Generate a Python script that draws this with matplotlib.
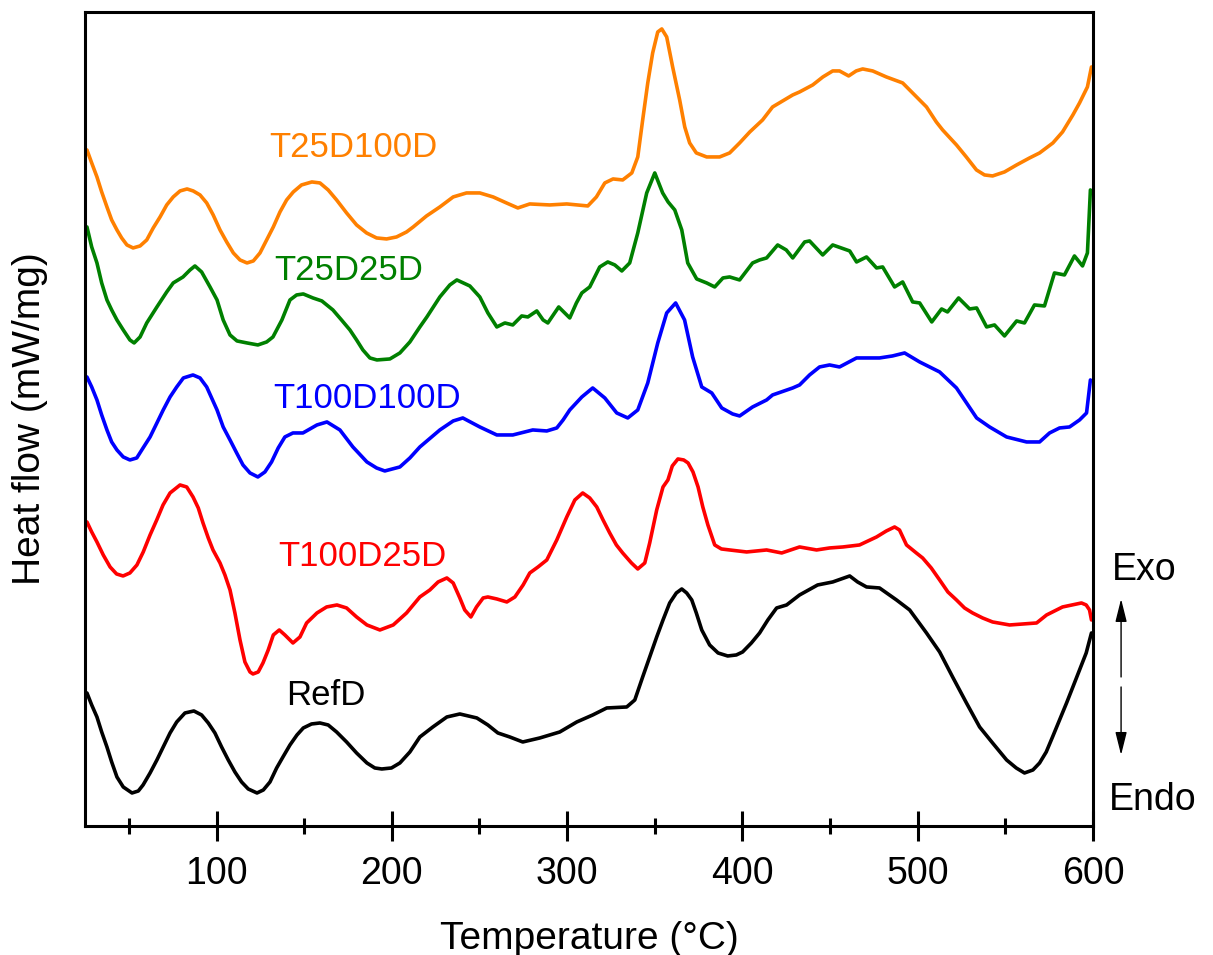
import matplotlib.pyplot as plt
from matplotlib.ticker import MultipleLocator

plt.rcParams['font.family'] = ['Liberation Sans', 'DejaVu Sans']

# DSC traces, stacked with arbitrary offsets (heat flow, mW/mg)
t_t25d100d = [26.1, 28.8, 31.8, 34.5, 37.5, 40.2, 43.2, 45.9, 48.9, 52.4, 56.4, 60.2, 63.9, 67.8,
              71.6, 75.3, 79.2, 83.2, 86.7, 90.6, 94.4, 98.1, 102.0, 105.8, 109.6, 113.4, 117.4,
              121.0, 124.8, 128.6, 132.4, 136.2, 140.0, 143.8, 148.5, 154.4, 159.0, 163.7, 168.5,
              174.2, 179.9, 185.6, 191.3, 197.0, 202.7, 208.4, 212.2, 219.8, 227.4, 235.0, 242.6,
              250.2, 257.8, 265.4, 271.9, 278.7, 290.1, 299.8, 311.8, 316.7, 321.5, 326.2, 331.7,
              336.9, 340.3, 343.1, 346.0, 348.8, 351.7, 354.0, 356.8, 360.2, 364.2, 367.1, 369.9,
              373.7, 379.6, 387.0, 392.7, 398.4, 404.2, 411.5, 417.2, 428.7, 432.6, 440.1, 445.9,
              451.5, 455.4, 460.6, 464.9, 468.6, 474.3, 482.1, 491.4, 498.2, 505.0, 510.6, 514.2,
              522.1, 527.7, 533.5, 538.1, 542.7, 549.5, 556.4, 563.8, 569.5, 577.1, 582.6, 588.5,
              592.3, 596.8, 599.1]
hf_t25d100d = [6.76, 6.63, 6.49, 6.34, 6.19, 6.06, 5.96, 5.88, 5.81, 5.78, 5.80, 5.86, 5.98, 6.09,
               6.21, 6.29, 6.35, 6.37, 6.35, 6.31, 6.23, 6.11, 5.96, 5.84, 5.73, 5.66, 5.63,
               5.65, 5.73, 5.86, 5.99, 6.14, 6.26, 6.34, 6.41, 6.44, 6.43, 6.36, 6.26,
               6.13, 6.01, 5.93, 5.88, 5.87, 5.89, 5.94, 5.99, 6.10, 6.19, 6.29, 6.33,
               6.33, 6.29, 6.23, 6.18, 6.22, 6.21, 6.22, 6.20, 6.29, 6.43, 6.47, 6.46,
               6.53, 6.69, 7.06, 7.43, 7.73, 7.94, 7.97, 7.89, 7.59, 7.26, 6.99, 6.83,
               6.73, 6.69, 6.69, 6.73, 6.83, 6.94, 7.06, 7.19, 7.31, 7.34, 7.41, 7.49,
               7.55, 7.55, 7.50, 7.55, 7.57, 7.55, 7.49, 7.43, 7.31, 7.19, 7.04, 6.96,
               6.81, 6.69, 6.56, 6.51, 6.50, 6.54, 6.61, 6.68, 6.73, 6.83, 6.94, 7.11,
               7.23, 7.39, 7.59]

t_t25d25d = [26.1, 28.8, 31.8, 34.5, 37.5, 40.2, 43.2, 46.8, 50.6, 53.0, 56.4, 60.2, 66.0, 71.6,
             75.3, 80.9, 84.9, 87.7, 91.5, 96.3, 100.3, 103.8, 107.7, 111.7, 117.4, 123.6, 128.6,
             132.2, 137.3, 141.9, 145.7, 149.5, 155.0, 160.1, 166.4, 171.3, 176.1, 179.9, 183.5,
             187.5, 191.5, 198.9, 204.6, 210.3, 216.0, 220.0, 227.4, 233.1, 237.1, 244.5, 250.2,
             254.8, 259.9, 264.5, 269.0, 274.1, 277.6, 282.7, 286.3, 289.0, 295.2, 301.5, 305.3,
             308.4, 312.9, 318.6, 323.2, 327.2, 331.2, 335.7, 340.3, 345.4, 350.0, 354.5, 357.6,
             361.4, 365.4, 368.8, 373.9, 379.6, 384.2, 388.9, 392.7, 398.4, 405.8, 409.8, 413.8,
             420.1, 425.0, 428.7, 435.5, 438.3, 445.8, 451.5, 461.2, 465.1, 470.8, 476.5, 480.0,
             486.8, 491.4, 497.1, 501.1, 508.0, 513.6, 517.0, 523.3, 529.6, 533.6, 539.3, 543.8,
             549.5, 556.4, 560.9, 566.6, 572.3, 578.0, 583.7, 589.4, 594.0, 596.8, 598.5]
hf_t25d25d = [5.99, 5.79, 5.63, 5.43, 5.26, 5.16, 5.06, 4.96, 4.86, 4.83, 4.89, 5.03, 5.19, 5.34,
              5.43, 5.49, 5.56, 5.60, 5.54, 5.39, 5.26, 5.06, 4.91, 4.85, 4.83, 4.81, 4.84,
              4.89, 5.06, 5.26, 5.31, 5.32, 5.28, 5.25, 5.16, 5.06, 4.96, 4.86, 4.76,
              4.68, 4.66, 4.67, 4.73, 4.84, 4.99, 5.09, 5.29, 5.41, 5.46, 5.40, 5.29,
              5.13, 4.99, 5.03, 5.01, 5.10, 5.09, 5.15, 5.06, 5.03, 5.19, 5.08, 5.23,
              5.33, 5.39, 5.59, 5.64, 5.61, 5.55, 5.63, 5.93, 6.33, 6.53, 6.33, 6.24,
              6.16, 5.96, 5.63, 5.47, 5.43, 5.39, 5.48, 5.49, 5.46, 5.63, 5.66, 5.68,
              5.81, 5.76, 5.68, 5.84, 5.85, 5.71, 5.81, 5.75, 5.64, 5.69, 5.58, 5.59,
              5.39, 5.44, 5.24, 5.23, 5.04, 5.17, 5.14, 5.28, 5.17, 5.18, 4.99, 5.01,
              4.90, 5.05, 5.03, 5.21, 5.20, 5.53, 5.51, 5.70, 5.60, 5.73, 6.36]

t_t100d100d = [26.1, 28.8, 31.8, 34.5, 37.5, 40.2, 43.2, 46.8, 50.6, 54.5, 58.1, 62.1, 66.0, 69.6,
               73.5, 77.3, 81.1, 86.6, 90.6, 94.4, 100.3, 103.8, 107.7, 111.5, 115.1, 119.1, 123.6,
               127.6, 131.4, 135.2, 139.0, 143.6, 149.3, 157.3, 163.0, 170.4, 177.8, 185.8, 191.3,
               196.0, 204.6, 210.3, 216.0, 227.4, 235.0, 240.5, 250.2, 259.9, 269.0, 280.4, 288.4,
               294.1, 297.7, 301.5, 308.4, 314.6, 321.5, 328.3, 334.6, 340.3, 346.0, 351.7, 356.8,
               361.9, 367.0, 371.6, 376.8, 382.5, 388.2, 394.4, 398.4, 405.8, 413.8, 417.2, 428.7,
               432.6, 438.3, 444.0, 449.7, 455.4, 465.1, 478.2, 485.6, 492.5, 501.1, 512.5, 522.1,
               533.6, 541.0, 550.7, 562.1, 569.5, 575.2, 580.9, 586.6, 592.3, 596.3, 598.5]
hf_t100d100d = [4.49, 4.39, 4.26, 4.11, 3.96, 3.84, 3.76, 3.69, 3.66, 3.68, 3.78, 3.89, 4.03, 4.16,
                4.29, 4.39, 4.48, 4.51, 4.48, 4.39, 4.16, 3.99, 3.86, 3.73, 3.61, 3.53, 3.49,
                3.54, 3.64, 3.78, 3.89, 3.93, 3.93, 4.01, 4.04, 3.96, 3.79, 3.64, 3.58,
                3.55, 3.59, 3.68, 3.79, 3.96, 4.05, 4.08, 3.99, 3.91, 3.91, 3.96, 3.95,
                3.98, 4.06, 4.16, 4.29, 4.38, 4.28, 4.13, 4.08, 4.16, 4.43, 4.83, 5.13,
                5.23, 5.06, 4.69, 4.39, 4.33, 4.18, 4.12, 4.10, 4.19, 4.26, 4.31, 4.38,
                4.41, 4.51, 4.59, 4.61, 4.59, 4.68, 4.68, 4.70, 4.73, 4.64, 4.54, 4.38,
                4.08, 3.99, 3.89, 3.84, 3.84, 3.93, 3.98, 3.99, 4.06, 4.13, 4.46]

t_t100d25d = [26.1, 28.8, 31.8, 35.4, 39.3, 43.0, 46.7, 50.6, 54.6, 58.2, 62.1, 65.9, 69.5, 73.5,
              79.2, 83.0, 86.6, 89.6, 92.3, 95.3, 98.0, 102.0, 104.8, 107.7, 110.5, 113.4, 116.2,
              119.1, 120.8, 123.8, 126.5, 129.5, 132.4, 135.8, 139.0, 143.6, 147.6, 151.4, 157.3,
              162.8, 168.7, 174.2, 179.9, 185.8, 193.2, 200.8, 208.4, 216.0, 221.7, 226.4, 231.4,
              235.0, 238.8, 241.6, 245.1, 248.3, 252.1, 254.8, 259.9, 265.6, 270.2, 274.9, 278.7,
              283.4, 288.4, 294.1, 299.8, 304.4, 308.9, 312.9, 316.9, 320.5, 324.3, 328.1, 331.7,
              336.7, 340.3, 344.3, 347.1, 351.1, 354.7, 357.5, 360.0, 363.2, 366.5, 369.0, 371.8,
              374.7, 377.4, 380.3, 384.2, 388.0, 392.7, 402.4, 413.8, 422.4, 432.6, 442.3, 449.7,
              457.3, 466.8, 476.5, 482.1, 486.8, 489.6, 493.6, 499.2, 502.8, 507.7, 512.5, 517.2,
              522.1, 526.7, 531.3, 537.0, 542.7, 552.4, 567.8, 573.5, 582.6, 593.4, 596.1, 598.0,
              599.1]
hf_t100d25d = [3.04, 2.94, 2.84, 2.71, 2.59, 2.52, 2.50, 2.53, 2.61, 2.74, 2.91, 3.06, 3.21, 3.33,
               3.41, 3.39, 3.29, 3.18, 3.03, 2.88, 2.76, 2.63, 2.51, 2.36, 2.13, 1.86, 1.64,
               1.54, 1.52, 1.54, 1.63, 1.76, 1.91, 1.96, 1.91, 1.83, 1.89, 2.03, 2.13,
               2.19, 2.21, 2.18, 2.09, 2.01, 1.96, 2.01, 2.13, 2.29, 2.36, 2.44, 2.48,
               2.43, 2.28, 2.16, 2.09, 2.19, 2.28, 2.29, 2.27, 2.24, 2.29, 2.41, 2.53,
               2.59, 2.66, 2.86, 3.09, 3.26, 3.33, 3.28, 3.19, 3.06, 2.93, 2.81, 2.73,
               2.63, 2.57, 2.63, 2.83, 3.16, 3.39, 3.46, 3.60, 3.67, 3.66, 3.63, 3.54,
               3.39, 3.19, 3.01, 2.81, 2.77, 2.76, 2.74, 2.76, 2.73, 2.79, 2.76, 2.78,
               2.79, 2.81, 2.89, 2.95, 2.99, 2.96, 2.81, 2.73, 2.68, 2.58, 2.46, 2.34,
               2.26, 2.18, 2.13, 2.08, 2.04, 2.01, 2.03, 2.11, 2.19, 2.23, 2.21, 2.16,
               2.06]

t_refd = [26.1, 28.8, 31.8, 34.5, 37.5, 40.2, 43.2, 46.8, 51.8, 55.4, 58.1, 62.1, 66.0, 69.6,
          73.5, 77.3, 82.0, 87.1, 91.5, 95.3, 99.1, 102.9, 106.7, 110.5, 114.3, 118.1, 123.1,
          126.7, 130.5, 134.3, 137.9, 141.9, 145.9, 149.5, 154.2, 159.0, 163.7, 168.5, 174.2,
          179.9, 185.8, 190.3, 194.3, 199.8, 204.6, 210.3, 216.0, 223.4, 231.4, 238.8, 248.5,
          254.8, 260.5, 267.3, 274.7, 284.4, 295.8, 305.5, 314.6, 322.6, 334.0, 338.6, 343.1,
          347.1, 351.1, 354.7, 358.5, 362.3, 365.4, 368.2, 371.1, 373.7, 376.8, 381.3, 386.1,
          391.6, 396.5, 400.1, 405.1, 409.8, 414.5, 419.5, 425.2, 432.6, 442.9, 451.5, 461.2,
          465.7, 470.8, 478.2, 487.9, 495.4, 505.0, 512.5, 519.9, 527.8, 535.3, 542.7, 550.7,
          556.2, 560.9, 565.7, 569.5, 573.3, 576.9, 580.9, 584.9, 588.5, 592.3, 596.1, 599.1]
hf_refd = [1.33, 1.21, 1.09, 0.94, 0.79, 0.64, 0.49, 0.39, 0.33, 0.35, 0.41, 0.53, 0.66, 0.79,
           0.93, 1.04, 1.13, 1.15, 1.11, 1.03, 0.93, 0.79, 0.66, 0.54, 0.44, 0.37, 0.33,
           0.36, 0.44, 0.58, 0.69, 0.81, 0.91, 0.98, 1.02, 1.03, 1.01, 0.94, 0.84,
           0.73, 0.63, 0.58, 0.57, 0.58, 0.63, 0.74, 0.89, 0.99, 1.09, 1.12, 1.08,
           1.01, 0.93, 0.89, 0.84, 0.88, 0.94, 1.04, 1.11, 1.18, 1.19, 1.26, 1.49,
           1.69, 1.89, 2.06, 2.23, 2.33, 2.37, 2.33, 2.26, 2.13, 1.96, 1.81, 1.73,
           1.70, 1.71, 1.74, 1.83, 1.93, 2.06, 2.18, 2.21, 2.31, 2.41, 2.44, 2.50,
           2.44, 2.39, 2.38, 2.26, 2.16, 1.93, 1.74, 1.49, 1.23, 0.99, 0.83, 0.66,
           0.58, 0.53, 0.56, 0.63, 0.74, 0.89, 1.06, 1.23, 1.39, 1.56, 1.73, 1.93]

samples = ['T25D100D', 'T25D25D', 'T100D100D', 'T100D25D', 'RefD']
colors = ['#ff8000', '#008000', '#0000ff', '#ff0000', '#000000']
temps = [t_t25d100d, t_t25d25d, t_t100d100d, t_t100d25d, t_refd]
flows = [hf_t25d100d, hf_t25d25d, hf_t100d100d, hf_t100d25d, hf_refd]
# where each sample name is written (left edge, baseline)
label_x = [129.9, 132.8, 132.2, 135.0, 139.6]
label_y = [6.69, 5.46, 4.18, 2.60, 1.21]

fig = plt.figure(figsize=(12.13, 9.55), dpi=100)
ax = fig.add_axes([0.0701, 0.1351, 0.831, 0.8524])

for t, hf, c in zip(temps, flows, colors):
    ax.plot(t, hf, color=c, linewidth=2.6, solid_joinstyle='round', solid_capstyle='round')

for name, c, lx, ly in zip(samples, colors, label_x, label_y):
    ax.text(lx, ly, name, color=c, fontsize=25, ha='left', va='baseline')

ax.set_xlim(25, 600)
ax.set_ylim(0, 8.14)
ax.xaxis.set_major_locator(MultipleLocator(100))
ax.xaxis.set_minor_locator(MultipleLocator(50))
ax.set_yticks([])
ax.tick_params(axis='x', which='major', direction='inout', length=21.6, width=2.2,
               labelsize=27, pad=11)
ax.tick_params(axis='x', which='minor', direction='inout', length=11.5, width=2.2)
for sp in ax.spines.values():
    sp.set_linewidth(2.2)

ax.set_xlabel('Temperature (°C)', fontsize=28, labelpad=21)
ax.set_ylabel('Heat flow (mW/mg)', fontsize=28, labelpad=27)

# exo / endo direction marker outside the right spine
ax.text(610.5, 2.46, 'Exo', fontsize=27, ha='left', va='baseline', clip_on=False)
ax.text(608.8, 0.16, 'Endo', fontsize=27, ha='left', va='baseline', clip_on=False)
arrow = dict(arrowstyle='-|>,head_length=1.0,head_width=0.25', color='black', lw=1.0,
             mutation_scale=14, shrinkA=0, shrinkB=0)
ax.annotate('', xy=(616, 2.27), xytext=(616, 1.49), arrowprops=arrow, annotation_clip=False)
ax.annotate('', xy=(616, 0.71), xytext=(616, 1.39), arrowprops=arrow, annotation_clip=False)

fig.savefig('out.png', dpi=100)
